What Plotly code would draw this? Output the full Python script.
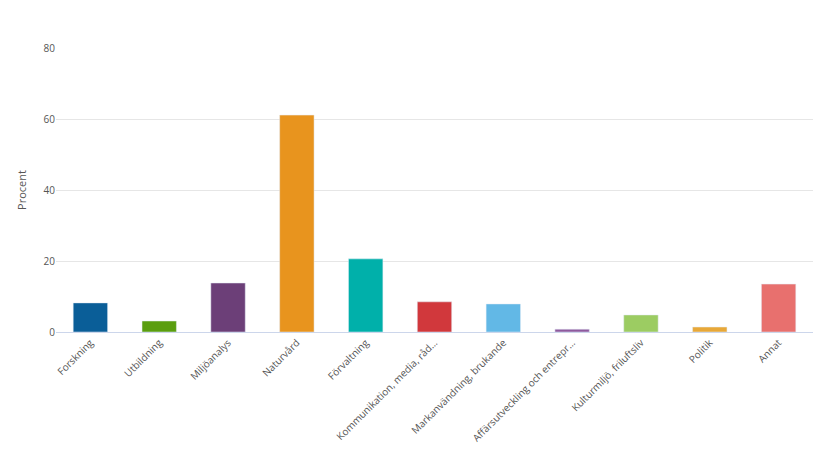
import plotly.graph_objects as go

categories = ["Forskning", "Utbildning", "Miljöanalys", "Naturvård", "Förvaltning",
              "Kommunikation, media, råd…", "Markanvändning, brukande",
              "Affärsutveckling och entrepr…", "Kulturmiljö, friluftsliv", "Politik", "Annat"]
values = [8.2, 3.1, 13.8, 61.1, 20.6, 8.5, 7.9, 0.8, 4.8, 1.4, 13.5]
colors = ["#0a5e98", "#5a9e0f", "#6c3f78", "#e8941e", "#00b0aa", "#d1383c",
          "#62b8e6", "#8e5a9e", "#9ccc62", "#e8a838", "#e8706e"]

fig = go.Figure(go.Bar(x=categories, y=values, marker_color=colors, width=0.5))

fig.update_layout(
    width=821, height=462,
    margin=dict(l=48, r=16, t=40, b=138),
    plot_bgcolor="white", paper_bgcolor="white",
    font=dict(family="Open Sans", size=10, color="#555"),
    showlegend=False,
)
fig.update_yaxes(range=[0, 80], dtick=20, gridcolor="#e6e6e6", zeroline=False, automargin=False,
                 title=dict(text="Procent", font=dict(size=11, color="#555"), standoff=14))
fig.update_xaxes(tickangle=-45, showline=True, linecolor="#ccd6eb", ticks="", automargin=False)

fig.write_html("out.html")
